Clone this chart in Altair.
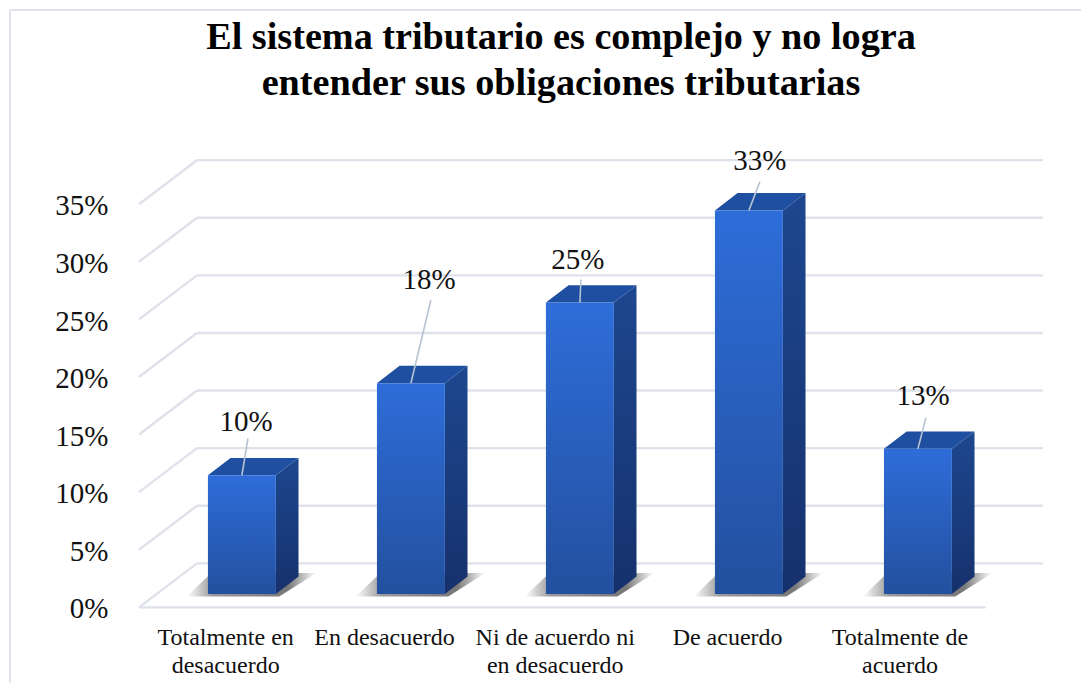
import altair as alt
import pandas as pd

# ---- chart values ----
categories = ["Totalmente en|desacuerdo", "En desacuerdo", "Ni de acuerdo ni|en desacuerdo", "De acuerdo", "Totalmente de|acuerdo"]
category_label_pos = [0.51, 1.45, 2.46, 3.48, 4.5]
values = [10.3, 18.3, 25.3, 33.3, 12.6]
value_labels = ["10%", "18%", "25%", "33%", "13%"]
ticks = [0, 5, 10, 15, 20, 25, 30, 35]
title_lines = ["El sistema tributario es complejo y no logra", "entender sus obligaciones tributarias"]

# callout geometry of each data label, in data units (percent, category widths)
label_rise = [4.6, 9.0, 3.7, 4.3, 4.6]
label_shift = [0.024, 0.107, -0.012, 0.065, 0.03]
leader_rise = [3.2, 7.2, 2.0, 2.5, 2.7]
leader_shift = [0.036, 0.118, 0.006, 0.065, 0.047]

# ---- pseudo-3D layout, data units ----
BAR_START, BAR_W = 0.408, 0.402
DEPTH_X, DEPTH_Y = 0.134, 1.51
WALL_X, WALL_BACK, WALL_FRONT = 0.343, 2.66, -1.16
FLOOR_END = 5.01
WALL_END = 5.349

xs = alt.Scale(domain=[-0.775, 5.574], nice=False, zero=False)
ys = alt.Scale(domain=[-7.726, 50.87], nice=False, zero=False)
SERIF = "Liberation Serif"
GRID = "#dfe2eb"

cat_expr = "split([" + ",".join(f"'{c}'" for c in categories) + "][round(datum.value-0.5)],'|')"
x_axis = alt.Axis(
    values=category_label_pos, labelExpr=cat_expr, grid=False, domain=False, ticks=False,
    title=None, orient="bottom", offset=-58, labelFont=SERIF, labelFontSize=24, labelColor="#111111",
    labelLineHeight=28, labelOverlap=False, labelFlush=False, labelBound=False, labelPadding=0,
    labelBaseline="top")
y_axis = alt.Axis(
    values=ticks, labelExpr="datum.value + '%'", grid=False, domain=False, ticks=False,
    title=None, orient="left", offset=-100, labelFont=SERIF, labelFontSize=29, labelColor="#111111",
    labelPadding=0, labelOffset=15, labelOverlap=False, labelBound=False, labelFlush=False)


def X(f="x"):
    return alt.X(f"{f}:Q", scale=xs, axis=x_axis)


def Y(f="y"):
    return alt.Y(f"{f}:Q", scale=ys, axis=y_axis)


def vgrad(c1, c2):
    return alt.Gradient(gradient="linear", x1=0, x2=0, y1=0, y2=1,
                        stops=[alt.GradientStop(color=c1, offset=0), alt.GradientStop(color=c2, offset=1)])


W, H = 1073, 675
border_left = alt.Chart(pd.DataFrame({"a": [0]})).mark_rule(color=GRID, strokeWidth=2).encode(
    x=alt.value(2), y=alt.value(2), y2=alt.value(H))
border_top = alt.Chart(pd.DataFrame({"a": [0]})).mark_rule(color=GRID, strokeWidth=2).encode(
    y=alt.value(2), x=alt.value(2), x2=alt.value(W))

# walls
back = pd.DataFrame({"x": [WALL_X] * len(ticks), "x2": [WALL_END] * len(ticks), "y": [t + WALL_BACK for t in ticks]})
grid_back = alt.Chart(back).mark_rule(color=GRID, strokeWidth=2.4).encode(
    x=X(), x2="x2:Q", y=Y())
side = pd.DataFrame({"x": [0.0] * len(ticks), "x2": [WALL_X] * len(ticks),
                     "y": [t + WALL_FRONT for t in ticks], "y2": [t + WALL_BACK for t in ticks]})
grid_side = alt.Chart(side).mark_rule(color=GRID, strokeWidth=2.4).encode(
    x=X(), x2="x2:Q", y=Y(), y2="y2:Q")
front = pd.DataFrame({"x": [0.0], "x2": [FLOOR_END], "y": [WALL_FRONT]})
grid_front = alt.Chart(front).mark_rule(color=GRID, strokeWidth=2.4).encode(
    x=X(), x2="x2:Q", y=Y())

# bars
rows, shadow_rows, side_rows, top_rows = [], [], [], []
for i, v in enumerate(values):
    l = i + BAR_START
    r = l + BAR_W
    rows.append({"x": l, "x2": r, "y": v, "y2": 0})
    side_rows += [{"b": i, "x": r, "y": v, "y2": 0}, {"b": i, "x": r + DEPTH_X, "y": v + DEPTH_Y, "y2": DEPTH_Y}]
    top_rows += [{"b": i, "y": v, "x": l, "x2": r}, {"b": i, "y": v + DEPTH_Y, "x": l + DEPTH_X, "x2": r + DEPTH_X}]
    shadow_rows += [{"b": i, "y": -0.22, "x": l - 0.125, "x2": r + 0.02},
                    {"b": i, "y": 1.82, "x": l + 0.02, "x2": r + 0.24}]

shadow_grad = alt.Gradient(gradient="linear", x1=0, x2=1, y1=0, y2=0, stops=[
    alt.GradientStop(color="#ffffff", offset=0), alt.GradientStop(color="#9a9a9a", offset=0.2),
    alt.GradientStop(color="#777777", offset=0.78), alt.GradientStop(color="#ffffff", offset=1)])
shadow = alt.Chart(pd.DataFrame(shadow_rows)).mark_area(orient="horizontal", color=shadow_grad).encode(
    y=Y(), x=X(), x2="x2:Q", detail="b:N")
sides = alt.Chart(pd.DataFrame(side_rows)).mark_area(color=vgrad("#1d478f", "#16316c")).encode(
    x=X(), y=Y(), y2="y2:Q", detail="b:N")
tops = alt.Chart(pd.DataFrame(top_rows)).mark_area(orient="horizontal", color="#1f4fa0").encode(
    y=Y(), x=X(), x2="x2:Q", detail="b:N")
fronts = alt.Chart(pd.DataFrame(rows)).mark_bar(color=vgrad("#2e6dd9", "#23509f")).encode(
    x=X(), x2="x2:Q", y=Y(), y2="y2:Q")

# leaders and labels
centers = [i + BAR_START + BAR_W / 2 for i in range(5)]
lead = pd.DataFrame({"x": centers, "y": values,
                     "x2": [c + s for c, s in zip(centers, leader_shift)],
                     "y2": [v + s for v, s in zip(values, leader_rise)]})
leaders = alt.Chart(lead).mark_rule(color="#b7c3d2", strokeWidth=1.6).encode(
    x=X(), x2="x2:Q", y=Y(), y2="y2:Q")
lab = pd.DataFrame({"x": [c + s for c, s in zip(centers, label_shift)],
                    "y": [v + s for v, s in zip(values, label_rise)], "t": value_labels})
labels = alt.Chart(lab).mark_text(font=SERIF, fontSize=29, color="#111111", align="center", baseline="middle").encode(
    x=X(), y=Y(), text="t:N")

chart = alt.layer(
    grid_back, grid_side, grid_front, border_left, border_top, shadow, sides, tops, fronts, leaders, labels
).properties(
    width=W, height=H, padding=0, autosize=alt.AutoSizeParams(type="none"),
    title=alt.TitleParams(text=title_lines, font=SERIF, fontSize=38.2, fontWeight="bold", color="#000000",
                          lineHeight=46, anchor="middle", dx=16.5, dy=129, baseline="alphabetic"),
).configure_view(stroke=None)

chart.save("out.html", embed_options={"renderer": "svg", "actions": False})
